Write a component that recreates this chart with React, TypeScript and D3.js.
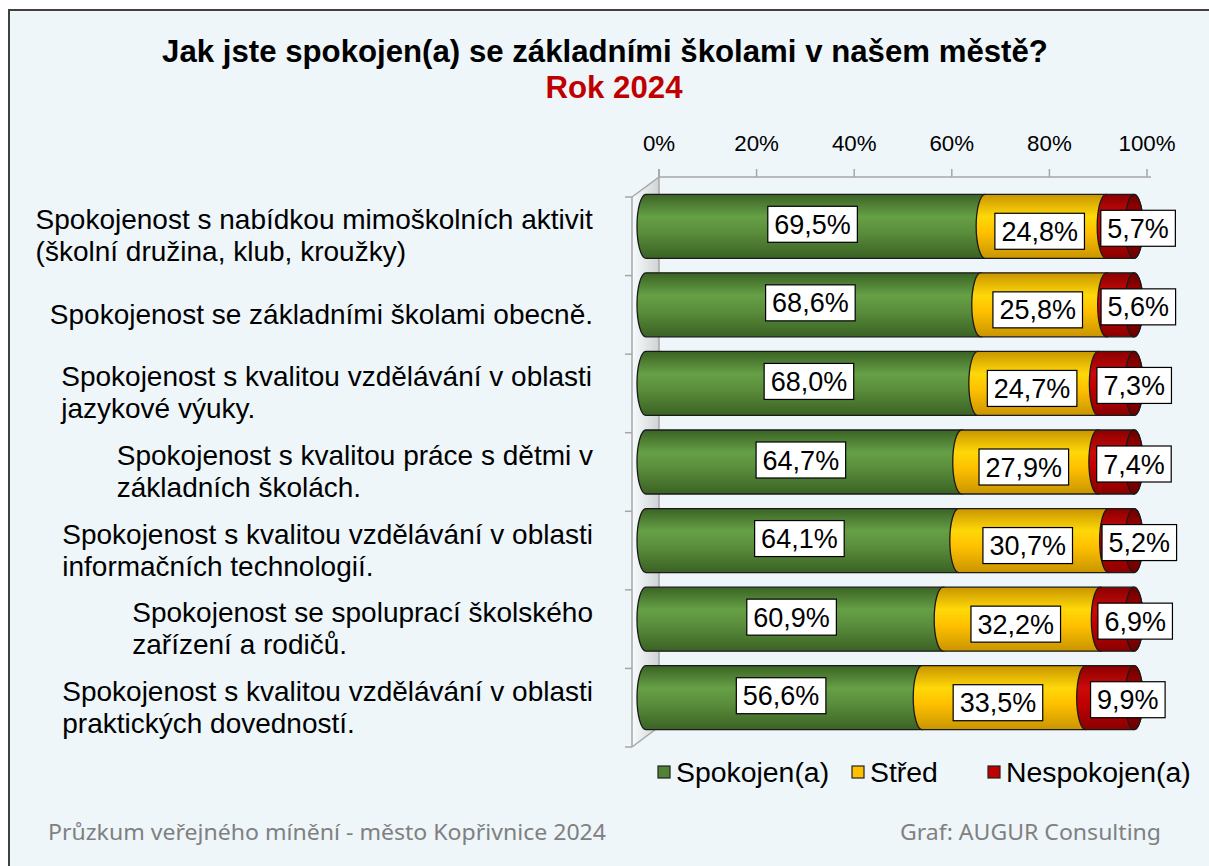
import React, { useEffect, useRef } from "react";
import * as d3 from "d3";

const categories: string[][] = [
  ["Spokojenost s nabídkou mimoškolních aktivit", "(školní družina, klub, kroužky)"],
  ["Spokojenost se základními školami obecně."],
  ["Spokojenost s kvalitou vzdělávání v oblasti", "jazykové výuky."],
  ["Spokojenost s kvalitou práce s dětmi v", "základních školách."],
  ["Spokojenost s kvalitou vzdělávání v oblasti", "informačních technologií."],
  ["Spokojenost se spoluprací školského", "zařízení a rodičů."],
  ["Spokojenost s kvalitou vzdělávání v oblasti", "praktických dovedností."],
];
const spokojen = [69.5, 68.6, 68.0, 64.7, 64.1, 60.9, 56.6];
const stred = [24.8, 25.8, 24.7, 27.9, 30.7, 32.2, 33.5];
const nespokojen = [5.7, 5.6, 7.3, 7.4, 5.2, 6.9, 9.9];
const seriesNames = ["Spokojen(a)", "Střed", "Nespokojen(a)"];
const tickValues = [0, 20, 40, 60, 80, 100];

const FONT = "Arial, 'Liberation Sans', sans-serif";

export default function App() {
  const ref = useRef<SVGSVGElement>(null);
  useEffect(() => {
    const svg = d3.select(ref.current);
    svg.selectAll("*").remove();
    const W = 1209, H = 866;

    const defs = svg.append("defs");
    const cyl = (id: string, dark: string, light: string, hi: string) => {
      const g = defs.append("linearGradient").attr("id", id).attr("x1", 0).attr("y1", 0).attr("x2", 0).attr("y2", 1);
      g.append("stop").attr("offset", 0).attr("stop-color", dark);
      g.append("stop").attr("offset", 0.35).attr("stop-color", hi);
      g.append("stop").attr("offset", 0.6).attr("stop-color", light);
      g.append("stop").attr("offset", 1).attr("stop-color", dark);
    };
    cyl("gGreen", "#3a6224", "#5a8d3b", "#66a046");
    cyl("gYellow", "#c99500", "#ffc000", "#ffd808");
    cyl("gRed", "#8a0000", "#c00000", "#cc0a0a");
    cyl("gCap", "#6a0000", "#9a0000", "#a50000");
    const wg = defs.append("linearGradient").attr("id", "gWall").attr("x1", 0).attr("y1", 0).attr("x2", 1).attr("y2", 0);
    wg.append("stop").attr("offset", 0).attr("stop-color", "#ffffff").attr("stop-opacity", 0.6);
    wg.append("stop").attr("offset", 1).attr("stop-color", "#bdbdbd").attr("stop-opacity", 0.6);

    // background + frame
    svg.append("rect").attr("x", 0).attr("y", 0).attr("width", W).attr("height", H).attr("fill", "#ffffff");
    svg.append("rect").attr("x", 9).attr("y", 10).attr("width", W).attr("height", H).attr("fill", "#eef6fa");
    svg.append("path").attr("d", `M9,${H} L9,10 L${W},10`).attr("fill", "none").attr("stroke", "#404040").attr("stroke-width", 2);

    // title
    svg.append("text").attr("x", 605).attr("y", 62).attr("text-anchor", "middle")
      .attr("font-family", FONT).attr("font-weight", "bold").attr("font-size", 31.2).attr("fill", "#000")
      .text("Jak jste spokojen(a) se základními školami v našem městě?");
    svg.append("text").attr("x", 614).attr("y", 98).attr("text-anchor", "middle")
      .attr("font-family", FONT).attr("font-weight", "bold").attr("font-size", 31.2).attr("fill", "#c00000")
      .text("Rok 2024");

    const xMid = d3.scaleLinear().domain([0, 100]).range([646, 1134]);
    const xBack = d3.scaleLinear().domain([0, 100]).range([659, 1147]);
    const idx = d3.range(categories.length).map(String);
    const yFront = d3.scaleBand<string>().domain(idx).range([197, 747]);
    const yMid = d3.scaleBand<string>().domain(idx).range([187, 737]);
    const barH = 64, rx = 9;
    const dx = 27, dy = -20;
    const fx = 632;

    // walls
    const grid = "#a6a6a6";
    svg.append("polygon")
      .attr("points", `${fx},197 ${fx + dx},${197 + dy} ${fx + dx},${747 + dy + 1} ${fx},747`)
      .attr("fill", "url(#gWall)");
    const wall = svg.append("g").attr("stroke", grid).attr("stroke-width", 1.5).attr("fill", "none");
    wall.append("line").attr("x1", fx).attr("y1", 197).attr("x2", fx).attr("y2", 747);
    wall.append("line").attr("x1", fx + dx).attr("y1", 197 + dy - 8).attr("x2", fx + dx).attr("y2", 747 + dy + 1);
    wall.append("line").attr("x1", fx).attr("y1", 197).attr("x2", fx + dx).attr("y2", 197 + dy);
    wall.append("line").attr("x1", fx).attr("y1", 747).attr("x2", fx + dx - 3).attr("y2", 747 + dy + 2);
    wall.append("line").attr("x1", fx + dx).attr("y1", 197 + dy).attr("x2", xBack(100) + 4).attr("y2", 197 + dy);
    tickValues.forEach((t) => {
      wall.append("line").attr("x1", xBack(t)).attr("x2", xBack(t)).attr("y1", 197 + dy - 8).attr("y2", 197 + dy);
    });
    d3.range(categories.length + 1).forEach((i) => {
      const y = 197 + i * yFront.bandwidth();
      wall.append("line").attr("x1", fx - 7).attr("x2", fx).attr("y1", y).attr("y2", y);
    });

    // tick labels
    svg.append("g").selectAll("text").data(tickValues).join("text")
      .attr("x", (d) => xBack(d)).attr("y", 151).attr("text-anchor", "middle")
      .attr("font-family", FONT).attr("font-size", 22.3).attr("fill", "#000")
      .text((d) => `${d}%`);

    // category labels
    categories.forEach((lines, i) => {
      const cy = yFront(String(i))! + yFront.bandwidth() / 2;
      const lh = 32;
      const g = svg.append("g");
      lines.forEach((ln, j) => {
        g.append("text").attr("x", 0).attr("y", cy + (j - (lines.length - 1) / 2) * lh + 9)
          .attr("font-family", FONT).attr("font-size", 28).attr("fill", "#000").text(ln);
      });
      const w = (g.node() as SVGGElement).getBBox().width;
      g.attr("transform", `translate(${593 - w},0)`);
    });

    // bars
    const fills = ["url(#gGreen)", "url(#gYellow)", "url(#gRed)"];
    const seg = (xs: number, xe: number, yc: number) => {
      const t = yc - barH / 2, b = yc + barH / 2, ry = barH / 2;
      return `M${xs},${t} L${xe},${t} A${rx},${ry} 0 0 1 ${xe},${b} L${xs},${b} A${rx},${ry} 0 0 1 ${xs},${t} Z`;
    };
    const bars = svg.append("g");
    const labels: { x: number; y: number; text: string }[] = [];
    categories.forEach((_, i) => {
      const yc = yMid(String(i))! + yMid.bandwidth() / 2;
      const vals = [spokojen[i], stred[i], nespokojen[i]];
      let acc = 0;
      vals.forEach((v, k) => {
        const xs = xMid(acc), xe = xMid(acc + v);
        bars.append("path").attr("d", seg(xs, xe, yc)).attr("fill", fills[k])
          .attr("stroke", "#1a1a1a").attr("stroke-width", 1.3);
        const mid = xMid(acc + v / 2);
        const off = k === 0 ? -3 : k === 1 ? -6 : 18;
        const yoff = k === 0 ? -2 : k === 1 ? 5 : 2;
        labels.push({ x: mid + off, y: yc + yoff, text: `${v.toFixed(1).replace(".", ",")}%` });
        acc += v;
      });
      bars.append("ellipse").attr("cx", xMid(100)).attr("cy", yc).attr("rx", rx).attr("ry", barH / 2)
        .attr("fill", "url(#gCap)").attr("stroke", "#1a1a1a").attr("stroke-width", 1.3);
    });

    // value labels
    const lg = svg.append("g");
    labels.forEach((l) => {
      const g = lg.append("g");
      const rect = g.append("rect");
      const t = g.append("text").attr("x", l.x).attr("y", l.y + 9.5).attr("text-anchor", "middle")
        .attr("font-family", FONT).attr("font-size", 27).attr("fill", "#000").text(l.text);
      const w = (t.node() as SVGTextElement).getComputedTextLength() + 13;
      rect.attr("x", l.x - w / 2).attr("y", l.y - 18).attr("width", w).attr("height", 36)
        .attr("fill", "#fff").attr("stroke", "#000").attr("stroke-width", 1.2);
    });

    // legend
    const legX = [658, 852, 988];
    const legC = ["#548235", "#ffc000", "#c00000"];
    seriesNames.forEach((n, k) => {
      svg.append("rect").attr("x", legX[k]).attr("y", 766).attr("width", 12).attr("height", 12)
        .attr("fill", legC[k]).attr("stroke", "#222").attr("stroke-width", 1.2);
      svg.append("text").attr("x", legX[k] + 18).attr("y", 782).attr("font-family", FONT)
        .attr("font-size", 28.4).attr("fill", "#000").text(n);
    });

    // footer
    svg.append("text").attr("x", 48).attr("y", 840).attr("font-family", "'Noto Sans', sans-serif")
      .attr("font-size", 21).attr("fill", "#808080").attr("textLength", 558).attr("lengthAdjust", "spacingAndGlyphs")
      .text("Průzkum veřejného mínění - město Kopřivnice 2024");
    svg.append("text").attr("x", 900).attr("y", 840).attr("font-family", "'Noto Sans', sans-serif")
      .attr("font-size", 21).attr("fill", "#808080").attr("textLength", 261).attr("lengthAdjust", "spacingAndGlyphs")
      .text("Graf: AUGUR Consulting");
  }, []);
  return (
    <svg ref={ref} width={1209} height={866}
      style={{ position: "absolute", left: 0, top: 0, display: "block" }} />
  );
}
